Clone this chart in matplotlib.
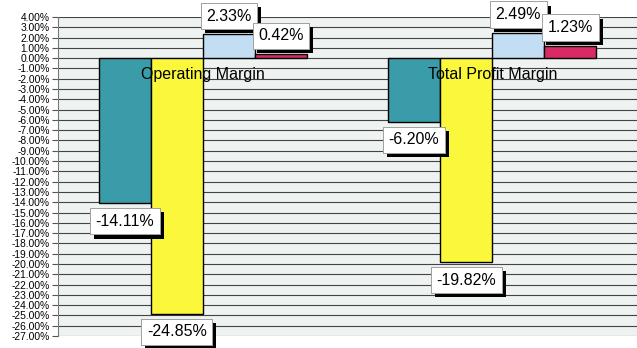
import numpy as np
import matplotlib
matplotlib.use("Agg")
import matplotlib.pyplot as plt
import matplotlib.patheffects as pe
from matplotlib.ticker import FuncFormatter

# data
categories = ["Operating Margin", "Total Profit Margin"]
series_a = [-14.11, -6.20]
series_b = [-24.85, -19.82]
series_c = [2.33, 2.49]
series_d = [0.42, 1.23]
colors = ["#3a9ca8", "#fbf73a", "#c3def3", "#d82a64"]

plt.rcParams["font.family"] = ["Liberation Sans", "DejaVu Sans"]

fig = plt.figure(figsize=(6.37, 3.48), dpi=100)
fig.patch.set_facecolor("white")
ax = fig.add_axes([58 / 637, 1 - 336 / 348, 1 - 58 / 637, (336 - 17) / 348])
ax.set_facecolor("#eef2f1")

x = np.arange(len(categories))
w = 0.18
all_series = [series_a, series_b, series_c, series_d]
for i, (vals, c) in enumerate(zip(all_series, colors)):
    pos = x + (i - 1.5) * w
    bars = ax.bar(pos, vals, w, color=c, edgecolor="black", linewidth=1, zorder=3)
    for b, v in zip(bars, vals):
        off = -18 if v < 0 else 18
        t = ax.annotate(f"{v:.2f}%", (b.get_x() + b.get_width() / 2, v),
                        xytext=(0, off), textcoords="offset pixels",
                        ha="center", va="center", fontsize=11.5, zorder=5,
                        bbox=dict(boxstyle="square,pad=0.35", fc="white", ec="#999999", lw=0.6))
        t.get_bbox_patch().set_path_effects(
            [pe.withSimplePatchShadow(offset=(3, -3), shadow_rgbFace="black", alpha=1), pe.Normal()])

# category labels sit just under the zero line
for xi, name in zip(x, categories):
    ax.text(xi, -1.6, name, ha="center", va="center", fontsize=11.5, zorder=6)

ax.set_xlim(-0.5, 1.5)
ax.set_ylim(-27, 4)
ax.set_yticks(np.arange(-27, 5, 1))
ax.yaxis.set_major_formatter(FuncFormatter(lambda v, p: f"{v:.2f}%"))
ax.tick_params(axis="y", labelsize=7.4, length=4, width=0.8, color="#555555", pad=2)
ax.set_xticks([])
ax.grid(axis="y", color="#444444", linewidth=0.8, zorder=1)
for s in ["top", "right", "bottom"]:
    ax.spines[s].set_visible(False)
ax.spines["left"].set_color("#777777")

fig.savefig("out.png", dpi=100)
